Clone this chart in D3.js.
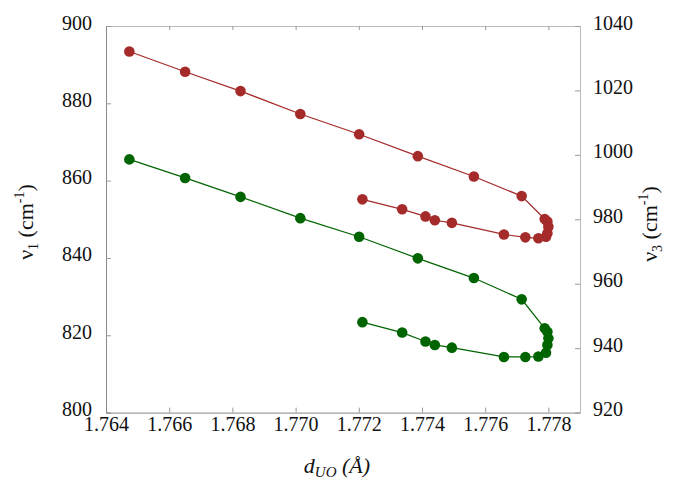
<!DOCTYPE html>
<html>
<head>
<meta charset="utf-8">
<script src="https://cdn.jsdelivr.net/npm/d3@7"></script>
<style>
  body { margin: 0; background: #fff; }
  svg, svg text { font-family: "Liberation Serif", "Times New Roman", "DejaVu Serif", serif; }
</style>
</head>
<body>
<div id="chart"></div>
<script>
// U-O distance (Å), same for both modes
const dUO = [1.764739, 1.766504, 1.768257, 1.770149, 1.772010, 1.773867, 1.775642,
  1.777154, 1.777883, 1.777968, 1.778000, 1.777968, 1.777924, 1.777683, 1.777271,
  1.776593, 1.774945, 1.774406, 1.774111, 1.773372, 1.772114];
// nu1 (left axis, green)
const nu1 = [865.5, 860.7, 855.8, 850.3, 845.5, 839.9, 834.8, 829.3, 821.8, 820.9,
  819.2, 817.5, 815.5, 814.5, 814.4, 814.4, 816.8, 817.5, 818.4, 820.7, 823.4];
// nu3 (right axis, red)
const nu3 = [1032.1, 1025.8, 1019.8, 1012.7, 1006.4, 999.6, 993.3, 987.2, 980.1, 979.3,
  977.7, 975.7, 974.6, 974.1, 974.4, 975.3, 978.9, 979.7, 980.9, 983.1, 986.2];

const xTicks = [1.764, 1.766, 1.768, 1.770, 1.772, 1.774, 1.776, 1.778];
const y1Ticks = [800, 820, 840, 860, 880, 900];
const y3Ticks = [920, 940, 960, 980, 1000, 1020, 1040];

const W = 675, H = 480;
const m = { left: 106, right: 95, top: 26, bottom: 67.4 };
const SERIF = '"Liberation Serif", "Times New Roman", serif';

const svg = d3.select("#chart").append("svg")
  .attr("width", W).attr("height", H)
  .attr("font-family", SERIF);

const x = d3.scaleLinear().domain([1.764, 1.779]).range([m.left, W - m.right]);
const y1 = d3.scaleLinear().domain([800, 900]).range([H - m.bottom, m.top]);
const y3 = d3.scaleLinear().domain([920, 1040]).range([H - m.bottom, m.top]);

// ---------- AXES ----------
const xAxis = d3.axisBottom(x).tickValues(xTicks).tickSize(-5).tickPadding(4)
  .tickFormat(d3.format(".3f"));
const gx = svg.append("g").attr("transform", `translate(0,${H - m.bottom})`).call(xAxis);

const xTop = d3.axisTop(x).tickValues(xTicks).tickSize(-4).tickFormat("");
const gxt = svg.append("g").attr("transform", `translate(0,${m.top})`).call(xTop);

const gy1 = svg.append("g").attr("transform", `translate(${m.left},0)`)
  .call(d3.axisLeft(y1).tickValues(y1Ticks).tickSize(-5).tickPadding(14)
    .tickFormat(d3.format("d")));

const gy3 = svg.append("g").attr("transform", `translate(${W - m.right},0)`)
  .call(d3.axisRight(y3).tickValues(y3Ticks).tickSize(-5).tickPadding(13)
    .tickFormat(d3.format("d")));

[gx, gxt, gy1, gy3].forEach(g => {
  g.attr("font-family", SERIF).attr("font-size", 20);
  g.select(".domain").attr("stroke", "#888");
  g.selectAll(".tick line").attr("stroke", "#999");
  g.selectAll(".tick text").attr("fill", "#111");
});
gy1.selectAll(".tick text").attr("dy", "0.15em");
gy3.selectAll(".tick text").attr("dy", "0.15em");
gy3.select(".domain").attr("stroke", "#bbb");
gxt.select(".domain").attr("stroke", "#bbb");

// ---------- SERIES ----------
function drawSeries(vals, yScale, color) {
  const pts = dUO.map((d, i) => [d, vals[i]]);
  svg.append("path")
    .datum(pts)
    .attr("fill", "none")
    .attr("stroke", color)
    .attr("stroke-width", 1.2)
    .attr("d", d3.line().x(d => x(d[0])).y(d => yScale(d[1])));
  svg.append("g").selectAll("circle")
    .data(pts)
    .enter()
    .append("circle")
    .attr("cx", d => x(d[0]))
    .attr("cy", d => yScale(d[1]))
    .attr("r", 5.3)
    .attr("fill", color);
}
drawSeries(nu3, y3, "#a52a2a");
drawSeries(nu1, y1, "#006400");

// ---------- LABELS ----------
function freqLabel(tx, ty, sub) {
  const t = svg.append("text")
    .attr("transform", `translate(${tx},${ty}) rotate(-90)`)
    .attr("text-anchor", "middle")
    .attr("fill", "#111")
    .attr("font-size", 22);
  t.append("tspan").text("ν");
  t.append("tspan").attr("dy", 5).attr("font-size", 14).text(sub);
  t.append("tspan").attr("dy", -5).text(" (cm");
  t.append("tspan").attr("dy", -9).attr("font-size", 14).text("-1");
  t.append("tspan").attr("dy", 9).text(")");
}
freqLabel(33, 222, "1");
freqLabel(657, 224, "3");

const labx = svg.append("text")
  .attr("x", 337).attr("y", 473)
  .attr("text-anchor", "middle")
  .attr("fill", "#111")
  .attr("font-size", 22)
  .attr("font-style", "italic");
labx.append("tspan").text("d");
labx.append("tspan").attr("dy", 4).attr("font-size", 15).text("UO");
labx.append("tspan").attr("dy", -4).text(" (Å)");
</script>
</body>
</html>
